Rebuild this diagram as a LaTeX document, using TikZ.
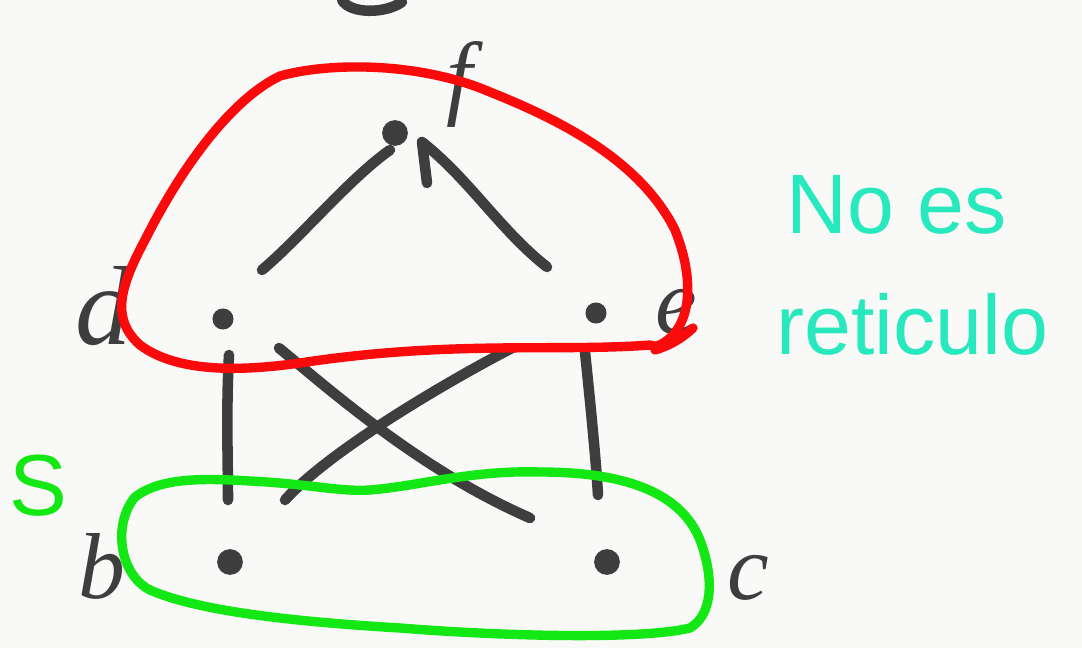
\documentclass[tikz,border=0pt]{standalone}
\usepackage{fontspec}
\setmainfont{Liberation Sans}
\newfontfamily\hand{Liberation Serif}
\definecolor{ink}{RGB}{62,62,62}
\definecolor{redink}{RGB}{250,10,10}
\definecolor{greenink}{RGB}{20,232,20}
\definecolor{cyanink}{RGB}{40,232,190}
\definecolor{paper}{RGB}{249,249,248}
\tikzset{
  pen/.style={draw=ink, line width=9pt, line cap=round, line join=round},
  dotnode/.style={circle, fill=ink, inner sep=0pt, minimum size=22pt},
  lbl/.style={text=ink, inner sep=0pt, font=\hand\itshape\fontsize{80}{80}\selectfont},
  redloop/.style={draw=redink, line width=8pt, line cap=round, line join=round},
  greenloop/.style={draw=greenink, line width=8pt, line cap=round, line join=round},
  note/.style={text=cyanink, inner sep=0pt, font=\fontsize{72}{72}\selectfont},
}
\begin{document}
\begin{tikzpicture}[x=0.03cm, y=-0.03cm]
\fill[paper] (0,0) rectangle (1082,648);
\useasboundingbox (0,0) rectangle (1082,648);
% cut-off letter at the top
\draw[pen] (342,0) .. controls (350,14) and (385,14) .. (402,2);
% dots
\node[dotnode] (f) at (395,133) {};
\node[dotnode, minimum size=18pt] (d) at (223,319) {};
\node[dotnode, minimum size=18pt] (e) at (596,313) {};
\node[dotnode] (b) at (230,562) {};
\node[dotnode] (c) at (607,562) {};
% connector end points
\coordinate (fd1) at (262,270); \coordinate (fd2) at (390,150);
\coordinate (fe1) at (422,142); \coordinate (fe2) at (547,267);
\coordinate (db1) at (229,355); \coordinate (db2) at (228,500);
\coordinate (ec1) at (585,352); \coordinate (ec2) at (598,495);
\coordinate (dc1) at (279,348); \coordinate (dc2) at (530,518);
\coordinate (eb1) at (512,348); \coordinate (eb2) at (285,500);
% connectors
\draw[pen] (fd1) .. controls (300,238) and (350,178) .. (fd2);
\draw[pen] (427,183) -- (fe1) .. controls (470,180) and (500,230) .. (fe2);
\draw[pen] (db1) .. controls (226,410) and (228,460) .. (db2);
\draw[pen] (ec1) .. controls (590,400) and (596,460) .. (ec2);
\draw[pen] (dc1) .. controls (330,390) and (420,470) .. (dc2);
\draw[pen] (eb1) .. controls (450,380) and (330,450) .. (eb2);
% labels
\node[lbl] (lf) at (460,84) {f};
\node[lbl, font=\hand\itshape\fontsize{96}{96}\selectfont] (ld) at (104,306) {d};
\node[lbl] (le) at (676,312) {e};
\node[lbl] (lb) at (102,566) {b};
\node[lbl] (lc) at (748,578) {c};
\node[text=greenink, inner sep=0pt, font=\fontsize{74}{74}\selectfont] (ls) at (38,486) {S};
% red loop
\draw[redloop] (650,345) .. controls (560,352) and (450,340) .. (300,363)
  .. controls (250,370) and (180,375) .. (140,345)
  .. controls (112,320) and (118,290) .. (145,240)
  .. controls (180,170) and (230,100) .. (280,76)
  .. controls (330,62) and (420,62) .. (490,92)
  .. controls (560,120) and (640,160) .. (675,230)
  .. controls (695,280) and (690,320) .. (670,338)
  .. controls (662,345) and (655,348) .. (650,345);
\draw[redloop] (693,328) .. controls (680,340) and (668,346) .. (655,350);
% green loop
\draw[greenloop] (135,497) .. controls (160,478) and (200,478) .. (250,481)
  .. controls (310,484) and (340,492) .. (370,490)
  .. controls (420,486) and (470,470) .. (540,472)
  .. controls (620,472) and (680,490) .. (700,540)
  .. controls (715,580) and (712,615) .. (690,628)
  .. controls (640,640) and (500,636) .. (400,628)
  .. controls (300,622) and (200,612) .. (150,590)
  .. controls (120,575) and (112,525) .. (135,497);
% note
\node[note, anchor=base west] (n1) at (786,234) {No es};
\node[note, anchor=base west] (n2) at (776,354) {reticulo};
\end{tikzpicture}
\end{document}
